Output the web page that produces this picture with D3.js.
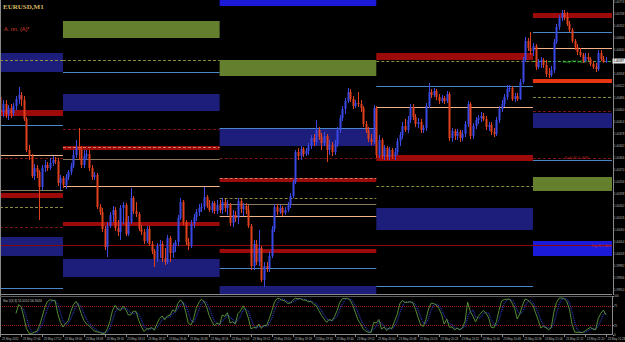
<!DOCTYPE html>
<meta charset="utf-8">
<style>
body { margin: 0; background: #000; }
svg { display: block; }
text { font-family: "Liberation Sans", Arial, sans-serif; }
.axis path, .axis line { stroke: #8a8a8a; shape-rendering: crispEdges; }
.axis text { fill: #b8b8b8; font-size: 2.9px; }
</style>
<svg width="625" height="342"></svg>
<script src="https://d3js.org/d3.v7.min.js"></script>
<script>
// EURUSD M1, 23 May 2011 17:36 - 21:28
// quotes kept in points: price = 1 + pts / 100000
var firstOpen = 40489;

var closes = [
  40444, 40468, 40438, 40456, 40441, 40462, 40483, 40495, 40480, 40423,
  40330, 40312, 40252, 40276, 40264, 40219, 40276, 40285, 40276, 40291,
  40300, 40297, 40231, 40246, 40225, 40249, 40264, 40282, 40315, 40336,
  40330, 40285, 40312, 40318, 40276, 40249, 40255, 40159, 40144, 40093,
  40039, 40102, 40135, 40150, 40096, 40084, 40156, 40165, 40078, 40114,
  40186, 40147, 40138, 40093, 40084, 40057, 40093, 40048, 40027, 40003,
  40042, 40048, 40006, 39994, 40066, 40021, 40042, 40054, 40126, 40174,
  40114, 40054, 40042, 40108, 40129, 40144, 40156, 40159, 40189, 40162,
  40150, 40171, 40147, 40165, 40150, 40174, 40156, 40165, 40111, 40135,
  40126, 40177, 40153, 40162, 40150, 40102, 39982, 40048, 39994, 40036,
  39940, 39982, 39976, 40012, 40093, 40159, 40144, 40156, 40141, 40150,
  40165, 40192, 40234, 40324, 40312, 40333, 40318, 40327, 40342, 40366,
  40354, 40390, 40369, 40351, 40372, 40330, 40345, 40324, 40348, 40390,
  40426, 40453, 40477, 40504, 40483, 40462, 40471, 40468, 40456, 40408,
  40390, 40363, 40354, 40456, 40315, 40360, 40312, 40336, 40309, 40330,
  40312, 40324, 40357, 40375, 40402, 40390, 40420, 40459, 40429, 40408,
  40414, 40390, 40396, 40462, 40504, 40495, 40507, 40489, 40477, 40486,
  40477, 40498, 40366, 40387, 40372, 40384, 40366, 40378, 40408, 40468,
  40372, 40402, 40420, 40426, 40432, 40423, 40399, 40405, 40384, 40378,
  40420, 40453, 40468, 40489, 40513, 40516, 40483, 40492, 40483, 40534,
  40600, 40657, 40636, 40627, 40642, 40579, 40594, 40600, 40585, 40558,
  40555, 40570, 40654, 40699, 40726, 40741, 40729, 40708, 40690, 40657,
  40639, 40624, 40615, 40597, 40609, 40603, 40588, 40579, 40573, 40621,
  40603, 40594, 40597
];

var highs = [
  40516, 40480, 40480, 40465, 40468, 40471, 40492, 40519, 40504, 40492,
  40429, 40345, 40318, 40288, 40285, 40270, 40285, 40300, 40294, 40306,
  40312, 40309, 40306, 40255, 40252, 40258, 40270, 40291, 40330, 40360,
  40396, 40342, 40330, 40330, 40330, 40285, 40264, 40261, 40168, 40156,
  40102, 40114, 40144, 40162, 40159, 40120, 40165, 40174, 40171, 40132,
  40216, 40192, 40174, 40144, 40105, 40093, 40102, 40102, 40057, 40033,
  40051, 40060, 40057, 40036, 40075, 40072, 40051, 40060, 40135, 40186,
  40180, 40120, 40066, 40120, 40138, 40153, 40168, 40171, 40219, 40195,
  40180, 40177, 40177, 40180, 40180, 40186, 40183, 40180, 40171, 40150,
  40147, 40186, 40183, 40171, 40171, 40165, 40108, 40060, 40060, 40090,
  40042, 39994, 39994, 40024, 40102, 40168, 40168, 40165, 40162, 40159,
  40174, 40201, 40240, 40330, 40336, 40342, 40339, 40336, 40351, 40375,
  40378, 40420, 40399, 40381, 40384, 40378, 40360, 40354, 40360, 40399,
  40435, 40462, 40486, 40516, 40513, 40492, 40480, 40504, 40480, 40462,
  40417, 40399, 40378, 40465, 40462, 40375, 40366, 40345, 40342, 40339,
  40336, 40336, 40366, 40384, 40414, 40423, 40432, 40468, 40468, 40438,
  40426, 40423, 40405, 40471, 40531, 40513, 40516, 40513, 40498, 40495,
  40492, 40507, 40504, 40396, 40393, 40393, 40390, 40390, 40417, 40477,
  40474, 40411, 40429, 40435, 40444, 40441, 40432, 40414, 40414, 40396,
  40429, 40462, 40480, 40498, 40525, 40525, 40522, 40501, 40501, 40543,
  40609, 40669, 40666, 40684, 40651, 40648, 40603, 40609, 40606, 40600,
  40576, 40582, 40663, 40708, 40735, 40750, 40750, 40744, 40717, 40696,
  40663, 40648, 40636, 40621, 40621, 40621, 40609, 40597, 40591, 40630,
  40630, 40612, 40609
];

var lows = [
  40432, 40429, 40426, 40420, 40426, 40432, 40450, 40468, 40462, 40417,
  40324, 40300, 40246, 40240, 40246, 40120, 40210, 40264, 40267, 40270,
  40282, 40288, 40222, 40210, 40216, 40213, 40240, 40255, 40276, 40306,
  40300, 40276, 40276, 40300, 40267, 40240, 40240, 40153, 40135, 40084,
  40030, 40009, 40096, 40114, 40087, 40072, 40060, 40108, 40072, 40072,
  40108, 40138, 40129, 40087, 40075, 40048, 40051, 40042, 40018, 39979,
  39994, 40006, 39994, 39985, 39988, 39994, 40006, 40024, 40042, 40120,
  40105, 40045, 40030, 40036, 40096, 40117, 40132, 40144, 40150, 40156,
  40144, 40141, 40138, 40138, 40141, 40138, 40144, 40135, 40102, 40099,
  40114, 40108, 40141, 40132, 40138, 40096, 39970, 39970, 39985, 39982,
  39934, 39919, 39964, 39964, 40006, 40084, 40135, 40138, 40132, 40135,
  40144, 40156, 40186, 40228, 40300, 40300, 40309, 40312, 40315, 40333,
  40342, 40345, 40360, 40330, 40342, 40294, 40315, 40312, 40315, 40339,
  40381, 40417, 40438, 40471, 40474, 40453, 40456, 40459, 40444, 40399,
  40381, 40354, 40345, 40348, 40306, 40306, 40303, 40300, 40300, 40300,
  40303, 40300, 40315, 40342, 40363, 40384, 40381, 40411, 40420, 40399,
  40396, 40381, 40381, 40387, 40456, 40486, 40489, 40480, 40468, 40471,
  40468, 40471, 40357, 40354, 40360, 40360, 40354, 40357, 40369, 40399,
  40363, 40363, 40393, 40408, 40414, 40417, 40390, 40387, 40375, 40369,
  40372, 40411, 40444, 40459, 40480, 40504, 40477, 40474, 40477, 40480,
  40528, 40594, 40627, 40615, 40612, 40570, 40573, 40576, 40576, 40549,
  40546, 40549, 40561, 40648, 40690, 40717, 40720, 40702, 40684, 40651,
  40630, 40615, 40609, 40591, 40594, 40597, 40582, 40573, 40564, 40567,
  40597, 40591, 40591
];

var timeLabels = [
  "23 May 2011", "23 May 17:44", "23 May 17:52", "23 May 18:00", "23 May 18:08",
  "23 May 18:16", "23 May 18:24", "23 May 18:32", "23 May 18:40", "23 May 18:48",
  "23 May 18:56", "23 May 19:04", "23 May 19:12", "23 May 19:20", "23 May 19:28",
  "23 May 19:36", "23 May 19:44", "23 May 19:52", "23 May 20:00", "23 May 20:08",
  "23 May 20:16", "23 May 20:24", "23 May 20:32", "23 May 20:40", "23 May 20:48",
  "23 May 20:56", "23 May 21:04", "23 May 21:12", "23 May 21:20", "23 May 21:28"
];

var priceTicks = [
  1.40774, 1.40738, 1.40702, 1.40666, 1.40630, 1.40594, 1.40558, 1.40522,
  1.40486, 1.40450, 1.40414, 1.40378, 1.40342, 1.40306, 1.40270, 1.40234,
  1.40198, 1.40162, 1.40126, 1.40090, 1.40054, 1.40018, 1.39982, 1.39946, 1.39910
];
var stochTicks = [0, 25, 75, 100];

// hourly level boxes: first bar of each hour
var hourStarts = [0, 24, 84, 144, 204, 236];

// [hour, top pts, bottom pts]
var navyZones  = [[0, 40621, 40564], [0, 40069, 40012], [1, 40498, 40447], [1, 40003, 39949],
                  [2, 40396, 40342], [2, 39922, 39870], [3, 40156, 40090], [4, 40441, 40396]];
var blueZones  = [[2, 40790, 40762], [4, 40057, 40012]];
var redZones   = [[0, 40450, 40432], [0, 40201, 40186], [1, 40342, 40330], [1, 40114, 40102],
                  [2, 40246, 40234], [2, 40033, 40021], [3, 40621, 40600], [3, 40315, 40297],
                  [4, 40741, 40726]];
var hotZones   = [[4, 40543, 40531]];
var oliveZones = [[1, 40717, 40666], [2, 40600, 40552], [4, 40249, 40207]];

// [hour, pts]
var steelLines     = [[0, 40405], [0, 39916], [1, 40564], [2, 40396], [2, 39976], [3, 40522],
                      [3, 39922], [4, 40684], [4, 40300]];
var peachLines     = [[0, 40315], [1, 40222], [2, 40132], [3, 40459], [4, 40636]];
var peachDashLines = [[1, 40339], [2, 40246]];
var oliveDashLines = [[0, 40600], [0, 40159], [1, 40600], [2, 40186], [3, 40597], [3, 40222], [4, 40489]];
var redDashLines   = [[0, 40306], [0, 40099], [1, 40393], [2, 40306], [4, 40447], [4, 40306]];
var tanLines       = [[0, 40210], [1, 40303], [2, 40168]];
var pivotLines     = [[4, 40597]];
var dailyLevel = 40045;

var svg = d3.select("svg"),
    W = 625, H = 342,
    plotR = 612, mainB = 294;

function px(pts) { return 1 + pts / 100000; }

var x = d3.scaleLinear().domain([0, 234]).range([0.3, 0.3 + 234 * 2.611]);
var y = d3.scaleLinear().domain([px(39898), px(40780)]).range([mainB, 0]);
var ys = d3.scaleLinear().domain([0, 100]).range([335, 296]);

var bars = closes.map(function(c, i) {
  var o = i ? closes[i - 1] : firstOpen;
  return {i: i, o: px(o), c: px(c),
          h: px(Math.max(highs[i], o, c)), l: px(Math.min(lows[i], o, c))};
});

svg.append("rect").attr("width", W).attr("height", H).attr("fill", "#000");

svg.append("clipPath").attr("id", "main")
  .append("rect").attr("x", 0).attr("y", 0).attr("width", plotR).attr("height", mainB);

var g = svg.append("g").attr("clip-path", "url(#main)");

function hx0(h) { return h === 0 ? 0 : x(hourStarts[h]); }
function hx1(h) { return h === 4 ? plotR : x(hourStarts[h + 1]); }

function zones(list, fill) {
  g.append("g").selectAll("rect").data(list).enter().append("rect")
    .attr("x", function(d) { return hx0(d[0]); })
    .attr("width", function(d) { return hx1(d[0]) - hx0(d[0]); })
    .attr("y", function(d) { return y(px(d[1])); })
    .attr("height", function(d) { return y(px(d[2])) - y(px(d[1])); })
    .attr("fill", fill);
}
zones(navyZones, "#1d1d7c");
zones(blueZones, "#1a1ad8");
zones(redZones, "#9c0a0a");
zones(hotZones, "#e5360f");
zones(oliveZones, "#64802f");

function levels(list, color, dash) {
  g.append("g").selectAll("line").data(list).enter().append("line")
    .attr("x1", function(d) { return hx0(d[0]); })
    .attr("x2", function(d) { return hx1(d[0]); })
    .attr("y1", function(d) { return Math.round(y(px(d[1]))) + 0.5; })
    .attr("y2", function(d) { return Math.round(y(px(d[1]))) + 0.5; })
    .attr("stroke", color)
    .attr("stroke-dasharray", dash || null);
}
levels(steelLines, "#4a86c8");
levels(peachLines, "#f2b488");
levels(peachDashLines, "#c88068", "3,2");
levels(oliveDashLines, "#8c8c3a", "3,2");
levels(redDashLines, "#7a1414", "3,2");
levels(tanLines, "#8c7a5a");
levels(pivotLines, "#3cb43c", "3,2");

g.append("line")
  .attr("x1", 0).attr("x2", plotR)
  .attr("y1", Math.round(y(px(dailyLevel))) + 0.5)
  .attr("y2", Math.round(y(px(dailyLevel))) + 0.5)
  .attr("stroke", "#8a0808");

// level captions on the current hour
g.append("text").attr("x", 563).attr("y", y(px(40597)) + 1.5)
  .attr("fill", "#3cb43c").attr("font-size", 3.4).text("Daily PP 1.4059");
g.append("text").attr("x", 565).attr("y", y(px(40306)) + 1)
  .attr("fill", "#c02828").attr("font-size", 3.4).text("Daily S1 1.4030");
g.append("text").attr("x", 592).attr("y", y(px(40045)) + 1.5)
  .attr("fill", "#d03030").attr("font-size", 2.9).text("Day S2 1.4004");

// candles
var bull = "#3a48e6", bear = "#e0401c";
var candle = g.append("g").selectAll("g").data(bars).enter().append("g");
candle.append("line")
  .attr("x1", function(d) { return Math.round(x(d.i)) + 0.5; })
  .attr("x2", function(d) { return Math.round(x(d.i)) + 0.5; })
  .attr("y1", function(d) { return y(d.h); })
  .attr("y2", function(d) { return y(d.l); })
  .attr("stroke", function(d) { return d.c >= d.o ? bull : bear; });
candle.append("rect")
  .attr("x", function(d) { return Math.round(x(d.i)) - 0.5; })
  .attr("width", 2)
  .attr("y", function(d) { return y(Math.max(d.o, d.c)); })
  .attr("height", function(d) { return Math.max(1, Math.abs(y(d.o) - y(d.c))); })
  .attr("fill", function(d) { return d.c >= d.o ? bull : bear; });

// title
svg.append("text").attr("x", 3).attr("y", 9)
  .attr("fill", "#d8b860").attr("font-size", 7).attr("font-weight", "bold")
  .style("font-family", "'Liberation Serif', serif").text("EURUSD,M1");
svg.append("text").attr("x", 4).attr("y", 31)
  .attr("fill", "#d8402c").attr("font-size", 5.5).text("A. nn. (A)*");

// stochastic 5,3,3 from the bars
var kLine = [], dLine = [];
bars.forEach(function(d, i) {
  if (i < 6) return;
  var num = 0, den = 0;
  for (var s = 0; s < 3; s++) {
    var j = i - s;
    var win = bars.slice(j - 4, j + 1);
    var ll = d3.min(win, function(b) { return b.l; }), hh = d3.max(win, function(b) { return b.h; });
    num += bars[j].c - ll; den += hh - ll;
  }
  kLine.push({i: i, v: den ? num / den * 100 : 50});
});
kLine.forEach(function(d, n) {
  if (n < 2) return;
  dLine.push({i: d.i, v: (kLine[n].v + kLine[n - 1].v + kLine[n - 2].v) / 3});
});

var sg = svg.append("g");
[75, 25].forEach(function(v) {
  sg.append("line").attr("x1", 0).attr("x2", plotR)
    .attr("y1", Math.round(ys(v)) + 0.5).attr("y2", Math.round(ys(v)) + 0.5)
    .attr("stroke", "#a01c1c").attr("stroke-dasharray", "1,1");
});
var ln = d3.line().x(function(d) { return x(d.i); }).y(function(d) { return ys(d.v); });
sg.append("path").datum(dLine).attr("d", ln)
  .attr("fill", "none").attr("stroke", "#2a36b0").attr("stroke-width", 1.3)
  .attr("stroke-dasharray", "1,1");
sg.append("path").datum(kLine).attr("d", ln)
  .attr("fill", "none").attr("stroke", "#5c9c3c").attr("stroke-width", 0.9);
var lastK = kLine[kLine.length - 1].v, lastD = dLine[dLine.length - 1].v;
svg.append("text").attr("x", 3).attr("y", 301.5)
  .attr("fill", "#c8c8c8").attr("font-size", 3.2)
  .text("Sto 5(3,3) " + lastK.toFixed(4) + " " + lastD.toFixed(4));

// frames
svg.append("line").attr("x1", 0.5).attr("x2", 0.5).attr("y1", 0).attr("y2", 334.5).attr("stroke", "#8a8a8a");
svg.append("line").attr("x1", 0).attr("x2", plotR).attr("y1", 294.5).attr("y2", 294.5).attr("stroke", "#8a8a8a");
svg.append("line").attr("x1", 0).attr("x2", plotR).attr("y1", 296.5).attr("y2", 296.5).attr("stroke", "#5a5a5a");

// price axis
svg.append("g").attr("class", "axis")
  .attr("transform", "translate(" + (plotR + 0.5) + ",0)")
  .call(d3.axisRight(y).tickValues(priceTicks).tickSize(1).tickPadding(0.4)
        .tickFormat(d3.format(".5f")));
svg.append("g").attr("class", "axis")
  .attr("transform", "translate(" + (plotR + 0.5) + ",0)")
  .call(d3.axisRight(ys).tickValues(stochTicks).tickSize(1).tickPadding(0.4))
  .call(function(a) { a.select(".domain").attr("d", "M0,296V335"); });

// current bid marker
var bid = bars[bars.length - 1].c;
var bm = svg.append("g").attr("transform", "translate(" + plotR + "," + y(bid) + ")");
bm.append("rect").attr("x", 0.5).attr("y", -2.5).attr("width", 12.5).attr("height", 5).attr("fill", "#e8e8e8");
bm.append("text").attr("x", 1.5).attr("y", 1.1).attr("fill", "#000").attr("font-size", 2.9)
  .text(d3.format(".5f")(bid));

// time axis
svg.append("g").attr("class", "axis")
  .attr("transform", "translate(0,334.5)")
  .call(d3.axisBottom(x).tickValues(d3.range(0, 233, 8)).tickSize(2).tickPadding(1)
        .tickFormat(function(d, k) { return timeLabels[k]; }))
  .call(function(a) {
    a.select(".domain").attr("d", "M0,0H" + plotR);
    a.selectAll("text").attr("text-anchor", "start").attr("dx", 1.2);
  });
</script>
